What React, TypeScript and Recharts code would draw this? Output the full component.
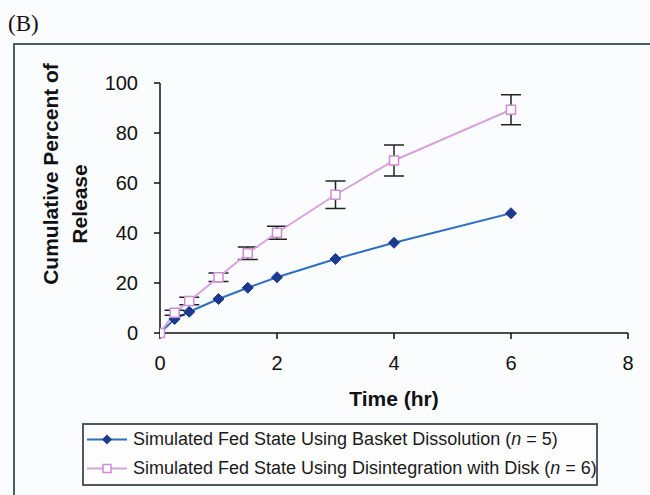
import React from 'react';
import { LineChart, Line, XAxis, YAxis, ErrorBar, Label } from 'recharts';

const times = [0, 0.25, 0.5, 1, 1.5, 2, 3, 4, 6];
const basket = [0, 5.6, 8.5, 13.6, 18.1, 22.3, 29.6, 36.1, 47.9];
const disk = [0, 8.1, 12.8, 22.3, 31.9, 40.1, 55.3, 69.0, 89.3];
const diskErr = [0, 1, 1.5, 1.7, 2.5, 2.6, 5.5, 6.2, 6];
const xTicks = [0, 2, 4, 6, 8];
const yTicks = [0, 20, 40, 60, 80, 100];
const basketName = 'Simulated Fed State Using Basket Dissolution';
const diskName = 'Simulated Fed State Using Disintegration with Disk';
const basketN = 5;
const diskN = 6;

const data = times.map((t, i) => ({ t, basket: basket[i], disk: disk[i], diskErr: diskErr[i] }));

const BLUE_LINE = '#2f6fc0';
const BLUE_MARK = '#1c3a8e';
const PINK_LINE = '#d8a2dc';
const PINK_MARK = '#d08cd4';
const FONT = '"Liberation Sans", Arial, Helvetica, sans-serif';

const Diamond = (props: any) => {
  const { cx, cy, index } = props;
  if (cx == null || cy == null) return <g key={`d${index}`} />;
  const r = 5.5;
  return (
    <path
      key={`d${index}`}
      d={`M${cx},${cy - r}L${cx + r},${cy}L${cx},${cy + r}L${cx - r},${cy}Z`}
      fill={BLUE_MARK}
      stroke={BLUE_MARK}
      strokeWidth={1}
    />
  );
};

const Square = (props: any) => {
  const { cx, cy, index } = props;
  if (cx == null || cy == null) return <g key={`s${index}`} />;
  const h = 4.5;
  return (
    <rect
      key={`s${index}`}
      x={cx - h}
      y={cy - h}
      width={2 * h}
      height={2 * h}
      fill="#ffffff"
      stroke={PINK_MARK}
      strokeWidth={1.5}
    />
  );
};

const LegendBox = () => {
  const row = (kind: 'b' | 'd', name: string, n: number) => (
    <div style={{ display: 'flex', alignItems: 'center', height: 29 }}>
      <svg width={46} height={29} style={{ flex: 'none' }}>
        <line x1={3} y1={14.5} x2={43} y2={14.5} stroke={kind === 'b' ? BLUE_LINE : PINK_LINE} strokeWidth={2} />
        {kind === 'b' ? (
          <path d="M23,9.5L28,14.5L23,19.5L18,14.5Z" fill={BLUE_MARK} />
        ) : (
          <rect x={19} y={10.5} width={8} height={8} fill="#fff" stroke={PINK_MARK} strokeWidth={1.5} />
        )}
      </svg>
      <span style={{ fontFamily: FONT, fontSize: 18, color: '#1a1a1a', whiteSpace: 'nowrap', marginLeft: 3 }}>
        {name} (<i>n</i> = {n})
      </span>
    </div>
  );
  return (
    <div
      style={{
        position: 'absolute',
        left: 82,
        top: 423,
        width: 512,
        height: 59,
        border: '2px solid #505a60',
        boxSizing: 'content-box',
        background: '#fdfdfe',
      }}
    >
      {row('b', basketName, basketN)}
      {row('d', diskName, diskN)}
    </div>
  );
};

const YLabel = () => (
  <g>
    <text
      x={58}
      y={174}
      transform="rotate(-90 58 174)"
      textAnchor="middle"
      fontFamily={FONT}
      fontWeight="bold"
      fontSize={21}
      fill="#111"
    >
      Cumulative Percent of
    </text>
    <text
      x={87}
      y={204}
      transform="rotate(-90 87 204)"
      textAnchor="middle"
      fontFamily={FONT}
      fontWeight="bold"
      fontSize={21}
      fill="#111"
    >
      Release
    </text>
  </g>
);

const XLabel = (props: any) => {
  const vb = props.viewBox || { x: 160, y: 333, width: 468, height: 40 };
  return (
    <text
      x={vb.x + vb.width / 2}
      y={vb.y + 73}
      textAnchor="middle"
      fontFamily={FONT}
      fontWeight="bold"
      fontSize={21}
      fill="#111"
    >
      Time (hr)
    </text>
  );
};

export default function App() {
  return (
    <div
      style={{
        position: 'absolute',
        left: 0,
        top: 0,
        width: 650,
        height: 495,
        background: '#fbfcfe',
        overflow: 'hidden',
      }}
    >
      <div
        style={{
          position: 'absolute',
          left: 8,
          top: 9,
          fontFamily: '"Liberation Serif", "Times New Roman", serif',
          fontSize: 23,
          color: '#111',
          lineHeight: '30px',
        }}
      >
        (B)
      </div>
      <div
        style={{
          position: 'absolute',
          left: 13,
          top: 43,
          width: 700,
          height: 500,
          borderLeft: '2px solid #4a5e6a',
          borderTop: '2px solid #4a5e6a',
        }}
      />
      <div style={{ position: 'absolute', left: 0, top: 0 }}>
        <LineChart width={650} height={495} data={data} margin={{ top: 83, right: 22, bottom: 122, left: 0 }}>
          <XAxis
            dataKey="t"
            type="number"
            domain={[0, 8]}
            ticks={xTicks}
            axisLine={{ stroke: '#111', strokeWidth: 1.5 }}
            tickLine={{ stroke: '#111', strokeWidth: 1.5 }}
            tickSize={6}
            tickMargin={17}
            height={40}
            tick={{ fontFamily: FONT, fontSize: 20, fill: '#111' }}
            allowDataOverflow
          >
            <Label content={<XLabel />} />
          </XAxis>
          <YAxis
            type="number"
            domain={[0, 100]}
            ticks={yTicks}
            width={160}
            axisLine={{ stroke: '#111', strokeWidth: 1.5 }}
            tickLine={{ stroke: '#111', strokeWidth: 1.5 }}
            tickSize={6}
            tickMargin={16}
            tick={{ fontFamily: FONT, fontSize: 20, fill: '#111' }}
          >
            <Label content={<YLabel />} />
          </YAxis>
          <Line
            type="linear"
            dataKey="basket"
            name={basketName}
            stroke={BLUE_LINE}
            strokeWidth={2}
            dot={Diamond}
            activeDot={false}
            isAnimationActive={false}
          />
          <Line
            type="linear"
            dataKey="disk"
            name={diskName}
            stroke={PINK_LINE}
            strokeWidth={2}
            dot={Square}
            activeDot={false}
            isAnimationActive={false}
          >
            <ErrorBar dataKey="diskErr" direction="y" width={10} stroke="#222" strokeWidth={1.5} isAnimationActive={false} />
          </Line>
        </LineChart>
      </div>
      <LegendBox />
    </div>
  );
}
